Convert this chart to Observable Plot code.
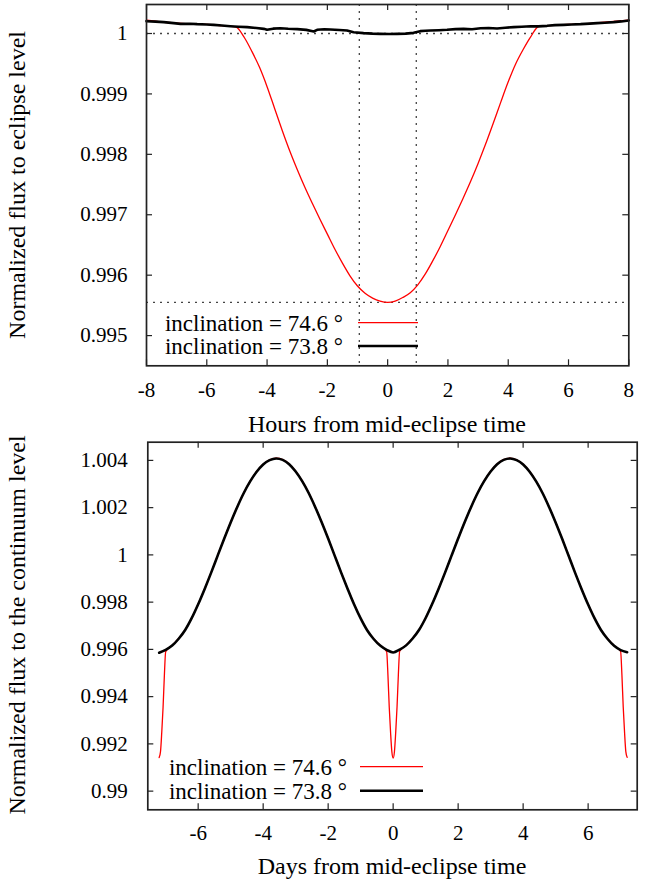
<!DOCTYPE html>
<html><head><meta charset="utf-8">
<script src="https://cdn.jsdelivr.net/npm/d3@7"></script>
<script src="https://cdn.jsdelivr.net/npm/@observablehq/plot@0.6"></script>
<style>
body{margin:0;background:#fff;}
#wrap{position:relative;width:654px;height:883px;background:#fff;}
#wrap > svg, #wrap > div{position:absolute;left:0;}
</style></head><body><div id="wrap"></div>
<script>
// ---------- DATA ----------
const seriesLabels = ["inclination = 74.6 °", "inclination = 73.8 °"];
const seriesColors = ["#ff0000", "#000000"];

// Top panel: hours from mid-eclipse
const topXTicks = [-8, -6, -4, -2, 0, 2, 4, 6, 8];
const topYTicks = [0.995, 0.996, 0.997, 0.998, 0.999, 1];
const topRefLevels = [1, 0.99555];
const topRefHours = [-0.94, 0.95];

const topRedHours = [-8,-7.5,-7,-6.5,-6,-5.5,-5.04,-4.75,-4.5,-4.25,-4,-3.75,-3.5,-3.25,-3,-2.75,-2.5,-2.25,-2,-1.75,-1.5,-1.25,-1,-0.75,-0.5,-0.25,0,0.25,0.5,0.75,1,1.25,1.5,1.75,2,2.25,2.5,2.75,3,3.25,3.5,3.75,4,4.25,4.5,4.75,5.02,5.5,6,6.5,7,7.5,8];
const topRedFlux = [1.00022,1.00019,1.00017,1.000155,1.00015,1.00013,1.00011,0.99993,0.99970,0.99944,0.99912,0.99876,0.99840,0.99806,0.99775,0.99746,0.99719,0.99693,0.99668,0.99643,0.99620,0.99599,0.99582,0.99570,0.99562,0.99557,0.99555,0.99557,0.99563,0.99571,0.99584,0.99602,0.99624,0.99648,0.99674,0.99700,0.99727,0.99755,0.99785,0.99817,0.99851,0.99886,0.99920,0.99950,0.99974,0.99995,1.00012,1.000135,1.00015,1.00016,1.00018,1.00020,1.00022];

const topBlackHours = [-8,-7.7,-7.43,-7.1,-6.87,-6.55,-6.32,-6.0,-5.77,-5.5,-5.22,-4.95,-4.66,-4.35,-4.11,-4.0,-3.8,-3.56,-3.3,-3.0,-2.7,-2.45,-2.34,-2.1,-1.90,-1.6,-1.35,-1.13,-0.8,-0.5,-0.24,0.05,0.31,0.6,0.86,1.08,1.25,1.42,1.7,1.97,2.25,2.52,2.8,3.08,3.35,3.63,3.9,4.18,4.45,4.74,5.0,5.29,5.55,5.84,6.1,6.40,6.7,6.95,7.2,7.50,7.75,8.0];
const topBlackFlux = [1.000204,1.000196,1.000188,1.000172,1.000160,1.000162,1.000155,1.000150,1.000143,1.000132,1.000121,1.000112,1.000105,1.000090,1.000077,1.000061,1.000080,1.000088,1.000079,1.000072,1.000060,1.000033,1.000061,1.000070,1.000066,1.000058,1.000050,1.000022,1.000006,0.999998,0.999994,0.999992,0.999994,0.999998,1.000011,1.000039,1.000046,1.000050,1.000055,1.000061,1.000072,1.000077,1.000070,1.000088,1.000092,1.000083,1.000095,1.000105,1.000112,1.000121,1.000118,1.000127,1.000138,1.000143,1.000150,1.000155,1.000164,1.000171,1.000178,1.000188,1.000200,1.000215];

// Bottom panel: days from mid-eclipse
const botXTicks = [-6, -4, -2, 0, 2, 4, 6];
const botYTicks = [0.99, 0.992, 0.994, 0.996, 0.998, 1, 1.002, 1.004];

const botBlackDays = [-7.2,-7.0,-6.8,-6.6,-6.4,-6.2,-6.0,-5.8,-5.6,-5.4,-5.2,-5.0,-4.8,-4.6,-4.4,-4.2,-4.0,-3.8,-3.6,-3.4,-3.2,-3.0,-2.8,-2.6,-2.4,-2.2,-2.0,-1.8,-1.6,-1.4,-1.2,-1.0,-0.8,-0.6,-0.4,-0.2,0,0.2,0.4,0.6,0.8,1.0,1.2,1.4,1.6,1.8,2.0,2.2,2.4,2.6,2.8,3.0,3.2,3.4,3.6,3.8,4.0,4.2,4.4,4.6,4.8,5.0,5.2,5.4,5.6,5.8,6.0,6.2,6.4,6.6,6.8,7.0,7.2];
const botBlackFlux = [0.99586,0.99598,0.99616,0.99645,0.99682,0.99732,0.99791,0.99856,0.99925,0.99997,1.00068,1.00137,1.00202,1.00261,1.00311,1.00352,1.00383,1.00401,1.00408,
1.00402,1.00384,1.00353,1.00312,1.00262,1.00203,1.00138,1.00069,0.99997,0.99925,0.99856,0.99790,0.99731,0.99681,0.99644,0.99616,0.99598,0.99587,
0.99599,0.99617,0.99646,0.99683,0.99733,0.99792,0.99857,0.99926,0.99998,1.00069,1.00138,1.00203,1.00262,1.00312,1.00353,1.00384,1.00402,1.00408,
1.00401,1.00383,1.00352,1.00311,1.00261,1.00202,1.00137,1.00068,0.99996,0.99924,0.99855,0.99790,0.99731,0.99681,0.99644,0.99615,0.99597,0.99588];

const botRedDays = [-7.2,-7.16,-7.12,-7.08,-7.04,-7.0,-6.8,-6.6,-6.4,-6.2,-6.0,-5.8,-5.6,-5.4,-5.2,-5.0,-4.8,-4.6,-4.4,-4.2,-4.0,-3.8,-3.6,-3.4,-3.2,-3.0,-2.8,-2.6,-2.4,-2.2,-2.0,-1.8,-1.6,-1.4,-1.2,-1.0,-0.8,-0.6,-0.4,-0.2,-0.16,-0.12,-0.08,-0.04,0,0.04,0.08,0.12,0.16,0.2,0.4,0.6,0.8,1.0,1.2,1.4,1.6,1.8,2.0,2.2,2.4,2.6,2.8,3.0,3.2,3.4,3.6,3.8,4.0,4.2,4.4,4.6,4.8,5.0,5.2,5.4,5.6,5.8,6.0,6.2,6.4,6.6,6.8,7.0,7.04,7.08,7.12,7.16,7.2];
const botRedFlux = [0.99142,0.99166,0.99250,0.99355,0.99490,0.99590,
0.99617,0.99646,0.99683,0.99733,0.99792,0.99857,0.99926,0.99998,1.00069,1.00138,1.00203,1.00262,1.00312,1.00353,1.00384,1.00402,1.00409,
1.00403,1.00385,1.00354,1.00313,1.00263,1.00204,1.00139,1.00070,0.99998,0.99926,0.99857,0.99791,0.99732,0.99682,0.99645,0.99617,
0.99590,0.99490,0.99355,0.99250,0.99167,0.99140,0.99168,0.99252,0.99357,0.99492,0.99592,
0.99618,0.99647,0.99684,0.99734,0.99793,0.99858,0.99927,0.99999,1.00070,1.00139,1.00204,1.00263,1.00313,1.00354,1.00385,1.00403,1.00409,
1.00402,1.00384,1.00353,1.00312,1.00262,1.00203,1.00138,1.00069,0.99997,0.99925,0.99856,0.99791,0.99732,0.99682,0.99645,0.99616,
0.99591,0.99491,0.99356,0.99251,0.99167,0.99143];

// ---------- RENDER ----------
const FONT = '"Liberation Serif","Times New Roman",Times,serif';
const zip = (xs, ys) => xs.map((x, i) => ({x, y: ys[i]}));
const fmt = d => String(d);

function panel({width, height, mt, mr, mb, ml, xDomain, yDomain, xTicks, yTicks, xPad, yPad, marks}) {
  const fw = width - ml - mr, fh = height - mt - mb, tl = 6;
  const tickStyle = {stroke: "#222", strokeWidth: 1.2};
  return Plot.plot({
    width, height, marginTop: mt, marginRight: mr, marginBottom: mb, marginLeft: ml,
    x: {domain: xDomain, label: null},
    y: {domain: yDomain, label: null},
    style: {fontFamily: FONT, fontSize: "21px", color: "#000", background: "#fff", overflow: "visible"},
    marks: [
      ...marks,
      Plot.tickX(xTicks, {x: d => d, insetTop: fh - tl, ...tickStyle}),
      Plot.tickX(xTicks, {x: d => d, insetBottom: fh - tl, ...tickStyle}),
      Plot.tickY(yTicks, {y: d => d, insetRight: fw - tl, ...tickStyle}),
      Plot.tickY(yTicks, {y: d => d, insetLeft: fw - tl, ...tickStyle}),
      Plot.frame({stroke: "#222", strokeWidth: 1.7}),
      Plot.axisX(xTicks, {tickSize: 0, tickPadding: xPad, tickFormat: fmt, label: null, fill: "#000"}),
      Plot.axisY(yTicks, {tickSize: 0, tickPadding: yPad, tickFormat: fmt, label: null, fill: "#000"})
    ]
  });
}

const dotted = {stroke: "#444", strokeWidth: 1.3, strokeDasharray: "2,5"};

const topPlot = panel({
  width: 654, height: 440, mt: 4, mr: 25.7, mb: 74.7, ml: 146,
  xDomain: [-8, 8], yDomain: [0.99450, 1.00048],
  xTicks: topXTicks, yTicks: topYTicks, xPad: 16, yPad: 19,
  marks: [
    Plot.ruleY(topRefLevels, {y: d => d, ...dotted}),
    Plot.ruleX(topRefHours, {x: d => d, ...dotted}),
    Plot.line(zip(topRedHours, topRedFlux), {x: "x", y: "y", stroke: seriesColors[0], strokeWidth: 1.3, curve: "monotone-x"}),
    Plot.line(zip(topBlackHours, topBlackFlux), {x: "x", y: "y", stroke: seriesColors[1], strokeWidth: 2.6, curve: "linear"})
  ]
});

const botPlot = panel({
  width: 654, height: 443, mt: 1.7, mr: 17.3, mb: 73.7, ml: 147.3,
  xDomain: [-7.55, 7.51], yDomain: [0.98921, 1.00477],
  xTicks: botXTicks, yTicks: botYTicks, xPad: 15, yPad: 20,
  marks: [
    Plot.line(zip(botRedDays, botRedFlux), {x: "x", y: "y", stroke: seriesColors[0], strokeWidth: 1.3, curve: "monotone-x"}),
    Plot.line(zip(botBlackDays, botBlackFlux), {x: "x", y: "y", stroke: seriesColors[1], strokeWidth: 2.6, curve: "monotone-x"})
  ]
});

const wrap = document.getElementById("wrap");
topPlot.style.top = "0px";
botPlot.style.top = "440px";
wrap.appendChild(topPlot);
wrap.appendChild(botPlot);

// Overlay with axis titles and legends
const ov = d3.select(wrap).append("svg")
  .attr("width", 654).attr("height", 883)
  .style("position", "absolute").style("top", "0px").style("left", "0px")
  .style("pointer-events", "none")
  .attr("font-family", FONT).attr("fill", "#000");

function label(text, x, y, rot, size) {
  ov.append("text").text(text)
    .attr("text-anchor", "middle")
    .attr("font-size", size)
    .attr("transform", `translate(${x},${y}) rotate(${rot})`);
}
label("Hours from mid-eclipse time", 387, 432, 0, 24);
label("Days from mid-eclipse time", 392, 874, 0, 24);
label("Normalized flux to eclipse level", 25, 185, -90, 24);
label("Normalized flux to the continuum level", 25, 625, -90, 24);

function legend(textRight, lineX1, lineX2, ys) {
  seriesLabels.forEach((t, i) => {
    ov.append("text").text(t).attr("x", textRight).attr("y", ys[i] + 8)
      .attr("text-anchor", "end").attr("font-size", 23);
    ov.append("line").attr("x1", lineX1).attr("x2", lineX2)
      .attr("y1", ys[i]).attr("y2", ys[i])
      .attr("stroke", seriesColors[i]).attr("stroke-width", i === 0 ? 1.3 : 2.6);
  });
}
legend(343, 358, 418, [322.7, 346]);
legend(347, 360, 423, [766.7, 790.7]);
</script>
</body></html>
